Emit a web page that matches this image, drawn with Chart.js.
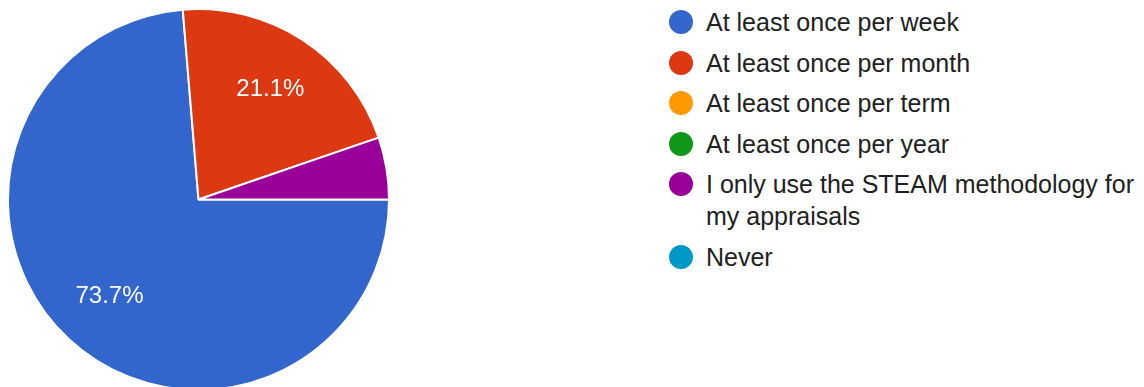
<!DOCTYPE html>
<html>
<head>
<meta charset="utf-8">
<script src="https://cdn.jsdelivr.net/npm/chart.js@4.4.1/dist/chart.umd.min.js"></script>
<style>
  html, body { margin: 0; padding: 0; background: #fff; width: 1144px; height: 387px; overflow: hidden; }
  #pieBox { position: absolute; left: 7px; top: 8px; width: 383px; height: 383px; }
  #legend { position: absolute; left: 669px; top: 6px; width: 475px; font-family: "Liberation Sans", Arial, sans-serif; font-size: 25px; color: #212121; }
  .item { display: flex; align-items: flex-start; line-height: 32px; margin-bottom: 8.5px; }
  .dot { width: 24px; height: 24px; border-radius: 50%; flex: none; margin-top: 4px; margin-right: 13px; }
  .txt { width: 438px; }
</style>
</head>
<body>
<div id="pieBox"><canvas id="pieChart"></canvas></div>
<div id="legend"></div>
<script>
// responses
const categories = [
    "At least once per week",
    "At least once per month",
    "At least once per term",
    "At least once per year",
    "I only use the STEAM methodology for my appraisals",
    "Never"
];
const counts = [14, 4, 0, 0, 1, 0];
const colors = ["#3366cc", "#dc3912", "#ff9900", "#109618", "#990099", "#0099c6"];

// percent labels inside the slices (google forms style, skip small ones)
const sliceLabels = {
    id: "sliceLabels",
    afterDatasetsDraw(chart) {
        const ctx = chart.ctx;
        const meta = chart.getDatasetMeta(0);
        const total = counts.reduce((a, b) => a + b, 0);
        ctx.save();
        ctx.fillStyle = "#ffffff";
        ctx.font = "24px 'Liberation Sans', Arial, sans-serif";
        ctx.textAlign = "center";
        ctx.textBaseline = "middle";
        meta.data.forEach((arc, i) => {
            const pct = counts[i] / total * 100;
            if (pct < 10) return;
            const p = arc.getProps(["x", "y", "startAngle", "endAngle", "outerRadius"], true);
            const mid = (p.startAngle + p.endAngle) / 2;
            const r = p.outerRadius * 0.69;
            ctx.fillText(pct.toFixed(1) + "%", p.x + Math.cos(mid) * r, p.y + Math.sin(mid) * r);
        });
        ctx.restore();
    }
};

new Chart(document.getElementById("pieChart"), {
    type: "pie",
    data: {
        labels: categories,
        datasets: [{
            data: counts,
            backgroundColor: colors,
            borderColor: "#ffffff",
            borderWidth: 2
        }]
    },
    options: {
        responsive: true,
        maintainAspectRatio: false,
        animation: false,
        rotation: 90,
        layout: { padding: 0 },
        plugins: {
            legend: { display: false },
            tooltip: { enabled: false }
        }
    },
    plugins: [sliceLabels]
});

// html legend so the long label can wrap
const legendEl = document.getElementById("legend");
categories.forEach((label, i) => {
    const row = document.createElement("div");
    row.className = "item";
    row.innerHTML = `<span class="dot" style="background:${colors[i]}"></span><span class="txt">${label}</span>`;
    legendEl.appendChild(row);
});
</script>
</body>
</html>
